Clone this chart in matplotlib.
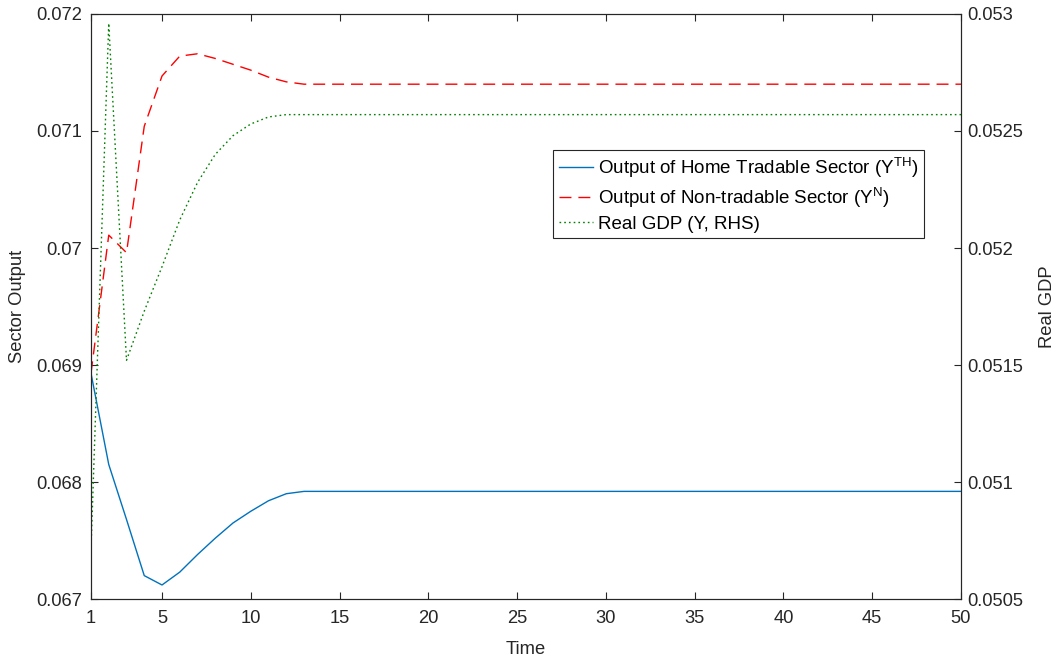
import matplotlib
matplotlib.use("Agg")
import matplotlib.pyplot as plt
import numpy as np

plt.rcParams['font.family'] = ['Liberation Sans', 'DejaVu Sans']
plt.rcParams['mathtext.fontset'] = 'custom'
plt.rcParams['mathtext.rm'] = 'Liberation Sans'
plt.rcParams['mathtext.it'] = 'Liberation Sans:italic'

time = list(range(1, 51))

home_tradable_head = [0.06893, 0.06815, 0.06768, 0.06720, 0.06712, 0.06723, 0.06738,
                      0.06752, 0.06765, 0.06775, 0.06784, 0.06790, 0.06792]
home_tradable = home_tradable_head + [0.06792] * (50 - len(home_tradable_head))

non_tradable_head = [0.06893, 0.07011, 0.06996, 0.07104, 0.07147, 0.07164, 0.07166,
                     0.07162, 0.07157, 0.07152, 0.07146, 0.07142, 0.07140]
non_tradable = non_tradable_head + [0.07140] * (50 - len(non_tradable_head))

real_gdp_head = [0.05071, 0.05296, 0.05152, 0.05173, 0.05192, 0.05212, 0.05228,
                 0.05240, 0.05248, 0.05253, 0.05256, 0.05257]
real_gdp = real_gdp_head + [0.05257] * (50 - len(real_gdp_head))

left_ticks = [0.067, 0.068, 0.069, 0.070, 0.071, 0.072]
left_labels = ['0.067', '0.068', '0.069', '0.07', '0.071', '0.072']
right_ticks = [0.0505, 0.051, 0.0515, 0.052, 0.0525, 0.053]
right_labels = ['0.0505', '0.051', '0.0515', '0.052', '0.0525', '0.053']
x_ticks = [1, 5, 10, 15, 20, 25, 30, 35, 40, 45, 50]

fig = plt.figure(figsize=(10.58, 6.63), dpi=100)
ax = fig.add_axes([0.086, 0.0965, 0.8223, 0.8824])
ax2 = ax.twinx()

l1, = ax.plot(time, home_tradable, color='#0072BD', lw=1.0,
              label=r'Output of Home Tradable Sector (Y$^{\rm TH}$)')
l2, = ax.plot(time, non_tradable, color='#FF0000', lw=1.0, dashes=(8.6, 5.0),
              label=r'Output of Non-tradable Sector (Y$^{\rm N}$)')
l3, = ax2.plot(time, real_gdp, color='#008000', lw=1.0, dashes=(1.2, 2.2),
               label='Real GDP (Y, RHS)')

ax.set_xlim(1, 50)
ax.set_ylim(0.067, 0.072)
ax2.set_ylim(0.0505, 0.053)
ax.set_xticks(x_ticks)
ax.set_yticks(left_ticks)
ax.set_yticklabels(left_labels)
ax2.set_yticks(right_ticks)
ax2.set_yticklabels(right_labels)

fs = 13.2
tc = '#262626'
ax.tick_params(axis='x', direction='in', labelsize=fs, length=5, width=0.8,
               top=True, colors=tc, pad=8)
ax.tick_params(axis='y', direction='in', labelsize=fs, length=5, width=0.8,
               colors=tc, pad=6.5)
ax2.tick_params(axis='y', direction='in', labelsize=fs, length=5, width=0.8,
                colors=tc, pad=4.5)
for a in (ax, ax2):
    for s in a.spines.values():
        s.set_color(tc)
        s.set_linewidth(0.8)

ax.set_xlabel('Time', fontsize=fs, color=tc, labelpad=10)
ax.set_ylabel('Sector Output', fontsize=fs, color=tc, labelpad=7)
ax2.set_ylabel('Real GDP', fontsize=fs, color=tc, labelpad=11)

leg = ax2.legend(handles=[l1, l2, l3], loc='upper left',
                 bbox_to_anchor=(0.531, 0.767), fontsize=13.5, frameon=True,
                 fancybox=False, edgecolor=tc, framealpha=1,
                 handlelength=1.85, handletextpad=0.25, borderpad=0.3,
                 labelspacing=0.3, borderaxespad=0)
leg.get_frame().set_linewidth(0.8)

fig.savefig('out.png', dpi=100)
